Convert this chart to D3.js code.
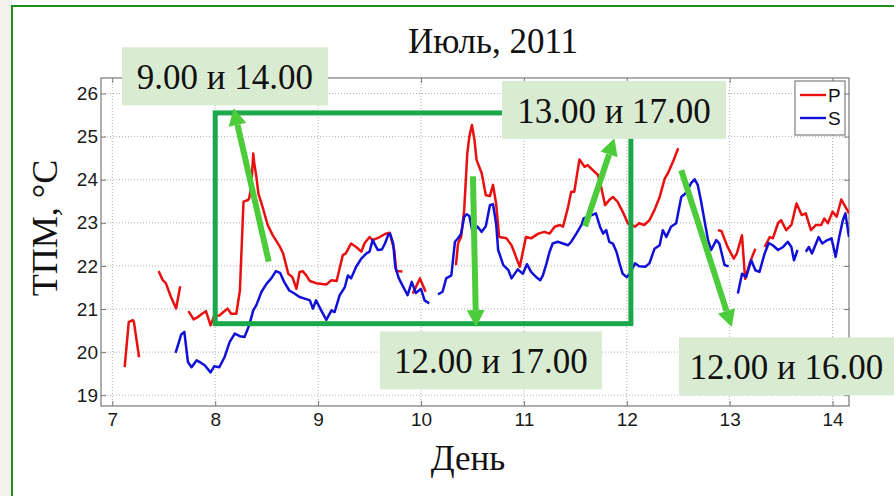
<!DOCTYPE html>
<html>
<head>
<meta charset="utf-8">
<script src="https://cdn.jsdelivr.net/npm/d3@7"></script>
<style>
  body { margin: 0; background: #fff; }
  svg { display: block; }
</style>
</head>
<body>
<div id="chart-area"></div>
<script>
// Temperature series, [day, °C]; null marks a gap in the record
const seriesP = [
  [7.12,19.65],[7.16,20.70],[7.20,20.74],[7.21,20.70],[7.26,19.88], null,
  [7.45,21.88],[7.49,21.67],[7.52,21.60],[7.57,21.28],[7.62,21.01],[7.66,21.53], null,
  [7.74,20.95],[7.79,20.76],[7.83,20.81],[7.865,20.88],[7.91,20.95],[7.955,20.62],[7.99,20.84],
  [8.04,20.85],[8.08,20.93],[8.12,21.01],[8.155,20.89],[8.205,20.89],[8.24,21.43],[8.275,23.49],
  [8.32,23.53],[8.33,23.57],[8.35,23.84],[8.37,24.61],[8.38,24.38],[8.40,24.07],[8.42,23.68],
  [8.46,23.37],[8.51,22.95],[8.56,22.71],[8.63,22.44],[8.66,22.29],[8.71,21.82],[8.75,21.74],
  [8.79,21.47],[8.82,21.86],[8.85,21.88],[8.885,21.78],[8.92,21.65],[8.98,21.60],[9.08,21.57],
  [9.13,21.67],[9.18,21.65],[9.24,22.25],[9.27,22.29],[9.32,22.52],[9.37,22.44],[9.42,22.33],
  [9.45,22.52],[9.50,22.67],[9.53,22.60],[9.60,22.67],[9.65,22.74],[9.695,22.77],[9.74,22.37],
  [9.76,21.88],[9.82,21.87], null,
  [9.92,21.36],[9.99,21.71],[10.045,21.40], null,
  [10.34,22.02],[10.36,22.52],[10.39,22.67],[10.42,23.30],[10.45,24.61],[10.47,25.00],[10.495,25.27],
  [10.52,24.92],[10.54,24.46],[10.59,24.15],[10.63,23.64],[10.67,23.62],[10.70,23.88],[10.73,23.45],
  [10.76,22.67],[10.83,22.64],[10.88,22.48],[10.96,21.98],[11.02,22.67],[11.07,22.64],[11.14,22.75],
  [11.20,22.79],[11.25,22.75],[11.30,22.91],[11.35,22.95],[11.38,22.91],[11.43,23.37],[11.46,23.72],
  [11.49,23.72],[11.54,24.47],[11.59,24.30],[11.62,24.34],[11.65,24.27],[11.72,24.11],[11.75,23.84],
  [11.79,23.41],[11.83,23.53],[11.865,23.60],[11.91,23.49],[11.96,23.26],[12.01,22.99],[12.08,22.91],
  [12.12,22.99],[12.17,22.95],[12.22,23.06],[12.27,23.30],[12.32,23.60],[12.37,24.03],[12.40,24.15],
  [12.45,24.42],[12.50,24.73], null,
  [12.885,22.83],[12.92,22.81],[12.98,22.44],[13.04,22.17],[13.07,22.29],[13.12,22.71],[13.15,21.70],
  [13.20,22.10],[13.25,22.40], null,
  [13.34,22.44],[13.39,22.67],[13.42,22.64],[13.47,22.99],[13.50,23.06],[13.55,22.83],[13.60,22.95],
  [13.65,23.45],[13.70,23.18],[13.74,23.22],[13.79,22.83],[13.84,22.95],[13.89,22.95],[13.92,23.10],
  [13.955,22.99],[14.00,23.26],[14.04,23.14],[14.085,23.54],[14.135,23.33],[14.16,23.22]
]

const seriesS = [
  [7.615,19.98],[7.67,20.41],[7.70,20.47],[7.735,19.77],[7.77,19.65],[7.82,19.81],[7.85,19.77],
  [7.90,19.69],[7.955,19.53],[7.99,19.67],[8.04,19.65],[8.09,19.88],[8.14,20.23],[8.19,20.43],
  [8.24,20.37],[8.285,20.35],[8.33,20.62],[8.37,20.97],[8.40,21.09],[8.45,21.40],[8.50,21.59],
  [8.545,21.71],[8.59,21.88],[8.63,21.84],[8.67,21.63],[8.72,21.43],[8.77,21.36],[8.82,21.28],
  [8.87,21.24],[8.92,21.20],[8.95,21.01],[8.98,21.20],[9.03,20.97],[9.08,20.75],[9.13,20.97],
  [9.16,20.93],[9.21,21.32],[9.26,21.51],[9.29,21.78],[9.32,21.71],[9.37,21.98],[9.42,22.17],
  [9.47,22.29],[9.50,22.33],[9.53,22.60],[9.58,22.37],[9.62,22.38],[9.65,22.52],[9.68,22.71],
  [9.70,22.75],[9.73,22.52],[9.75,21.98],[9.785,21.71],[9.82,21.55],[9.87,21.32],[9.91,21.63],
  [9.95,21.37],[10.00,21.47],[10.035,21.20],[10.08,21.13], null,
  [10.165,21.34],[10.21,21.40],[10.245,21.71],[10.295,21.78],[10.33,22.56],[10.36,22.64],[10.39,22.75],
  [10.42,23.14],[10.445,23.20],[10.47,23.16],[10.50,22.79],[10.55,22.91],[10.59,22.79],[10.63,22.92],
  [10.67,23.41],[10.70,23.43],[10.73,22.99],[10.75,22.37],[10.80,22.02],[10.85,21.90],[10.88,21.71],
  [10.94,21.92],[10.99,21.82],[11.03,22.04],[11.07,21.86],[11.12,21.74],[11.16,21.67],[11.185,21.78],
  [11.22,22.06],[11.25,22.33],[11.28,22.52],[11.33,22.56],[11.38,22.52],[11.43,22.48],[11.46,22.56],
  [11.51,22.75],[11.56,22.95],[11.58,23.10],[11.62,23.14],[11.66,23.18],[11.70,23.22],[11.74,22.91],
  [11.77,22.75],[11.80,22.83],[11.83,22.56],[11.865,22.52],[11.90,22.33],[11.93,22.06],[11.96,21.82],
  [12.00,21.74],[12.03,21.82],[12.08,22.06],[12.12,21.99],[12.18,21.98],[12.22,22.06],[12.27,22.40],
  [12.32,22.48],[12.35,22.83],[12.385,22.67],[12.43,22.91],[12.48,22.99],[12.505,23.30],[12.53,23.60],
  [12.57,23.68],[12.60,23.80],[12.625,23.92],[12.66,24.01],[12.69,23.88],[12.72,23.53],[12.755,23.06],
  [12.79,22.60],[12.82,22.37],[12.87,22.60],[12.90,22.52],[12.95,22.02],[12.99,21.99], null,
  [13.08,21.36],[13.12,21.82],[13.16,21.74],[13.21,22.13],[13.25,21.90],[13.29,21.86],[13.34,22.29],
  [13.38,22.53],[13.42,22.48],[13.47,22.37],[13.52,22.44],[13.565,22.56],[13.60,22.44],[13.625,22.13],
  [13.66,22.37], null,
  [13.74,22.33],[13.77,22.44],[13.80,22.29],[13.865,22.67],[13.90,22.52],[13.95,22.60],[13.99,22.64],
  [14.03,22.21],[14.065,22.67],[14.10,23.06],[14.125,23.22],[14.16,22.67]
]

const xTicks = [7, 8, 9, 10, 11, 12, 13, 14]
const yTicks = [19, 20, 21, 22, 23, 24, 25, 26]
const legendNames = ['P', 'S']
const seriesColors = ['#e81010', '#1010d8']

// Slide annotations (boxes + arrows), in day / °C
const highlight = { x0: 8, x1: 12.04, y0: 20.66, y1: 25.55 }
const arrows = [
  { from: [8.52, 22.10], to: [8.18, 25.66] },
  { from: [10.505, 24.08], to: [10.535, 20.58] },
  { from: [11.595, 22.92], to: [11.88, 24.96] },
  { from: [12.53, 24.22], to: [13.02, 20.58] }
]
const notes = [
  { text: '9.00 и 14.00', x: 8.095, y: 26.40, w: 206 },
  { text: '13.00 и 17.00', x: 11.876, y: 25.62, w: 224 },
  { text: '12.00 и 17.00', x: 10.68, y: 19.81, w: 222 },
  { text: '12.00 и 16.00', x: 13.552, y: 19.67, w: 215 }
]

const W = 894, H = 496
const PLOT = { LEFT: 101, RIGHT: 849, TOP: 78, BOTTOM: 406 }

const svg = d3.select('#chart-area').append('svg')
  .attr('width', W)
  .attr('height', H)

// slide background and frame
svg.append('rect').attr('width', W).attr('height', H).attr('fill', '#ffffff')
svg.append('rect').attr('width', 12).attr('height', H).attr('fill', '#f2f1ec')
svg.append('line').attr('x1', 12).attr('x2', 12).attr('y1', 5).attr('y2', H)
  .attr('stroke', '#1f8c1f').attr('stroke-width', 2)
svg.append('line').attr('x1', 11).attr('x2', W).attr('y1', 6).attr('y2', 6)
  .attr('stroke', '#1f8c1f').attr('stroke-width', 2)

// Scales
const x = d3.scaleLinear()
  .domain([6.89, 14.16])
  .range([PLOT.LEFT, PLOT.RIGHT])
const y = d3.scaleLinear()
  .domain([18.75, 26.36])
  .range([PLOT.BOTTOM, PLOT.TOP])

const g = svg.append('g')

// Grid
const grid = g.append('g')
  .attr('stroke', '#b0b0b0')
  .attr('stroke-width', 1)
  .attr('stroke-dasharray', '1,2')
grid.selectAll('.gx').data(xTicks).enter().append('line')
  .attr('x1', d => x(d)).attr('x2', d => x(d))
  .attr('y1', PLOT.TOP).attr('y2', PLOT.BOTTOM)
grid.selectAll('.gy').data(yTicks).enter().append('line')
  .attr('x1', PLOT.LEFT).attr('x2', PLOT.RIGHT)
  .attr('y1', d => y(d)).attr('y2', d => y(d))

// Axes, MATLAB style: ticks inside on all four sides
const tickFont = '"Liberation Sans", Arial, sans-serif'
const xAxisCall = d3.axisBottom(x).tickValues(xTicks).tickSizeInner(-5).tickSizeOuter(0).tickPadding(7)
const yAxisCall = d3.axisLeft(y).tickValues(yTicks).tickSizeInner(-5).tickSizeOuter(0).tickPadding(3)

g.append('g')
  .attr('transform', `translate(0, ${PLOT.BOTTOM})`)
  .call(xAxisCall)
g.append('g')
  .attr('transform', `translate(${PLOT.LEFT}, 0)`)
  .call(yAxisCall)
g.append('g')
  .attr('transform', `translate(0, ${PLOT.TOP})`)
  .call(d3.axisTop(x).tickValues(xTicks).tickSizeInner(-5).tickSizeOuter(0).tickFormat(''))
g.append('g')
  .attr('transform', `translate(${PLOT.RIGHT}, 0)`)
  .call(d3.axisRight(y).tickValues(yTicks).tickSizeInner(-5).tickSizeOuter(0).tickFormat(''))

g.selectAll('.domain').remove()
g.selectAll('.tick line').attr('stroke', '#777')
g.selectAll('.tick text')
  .attr('font-family', tickFont)
  .attr('font-size', '19px')
  .attr('fill', '#1a1a1a')

g.append('rect')
  .attr('x', PLOT.LEFT).attr('y', PLOT.TOP)
  .attr('width', PLOT.RIGHT - PLOT.LEFT).attr('height', PLOT.BOTTOM - PLOT.TOP)
  .attr('fill', 'none')
  .attr('stroke', '#7a7a7a')
  .attr('stroke-width', 1.2)

// Lines
svg.append('clipPath').attr('id', 'plot-clip')
  .append('rect')
  .attr('x', PLOT.LEFT).attr('y', PLOT.TOP)
  .attr('width', PLOT.RIGHT - PLOT.LEFT).attr('height', PLOT.BOTTOM - PLOT.TOP)

const line = d3.line()
  .defined(d => d !== null)
  .x(d => x(d[0]))
  .y(d => y(d[1]))

const lines = g.append('g').attr('clip-path', 'url(#plot-clip)')
;[seriesP, seriesS].forEach((series, i) => {
  lines.append('path')
    .datum(series)
    .attr('fill', 'none')
    .attr('stroke', seriesColors[i])
    .attr('stroke-width', 2.5)
    .attr('stroke-linejoin', 'round')
    .attr('d', line)
})

// Legend
const legend = g.append('g')
  .attr('transform', `translate(${PLOT.RIGHT - 54}, ${PLOT.TOP + 3})`)
legend.append('rect')
  .attr('width', 50).attr('height', 54)
  .attr('fill', '#fff')
  .attr('stroke', '#666')
legendNames.forEach((name, i) => {
  const row = legend.append('g').attr('transform', `translate(0, ${14 + i * 23})`)
  row.append('line')
    .attr('x1', 5).attr('x2', 31)
    .attr('stroke', seriesColors[i])
    .attr('stroke-width', 2.4)
  row.append('text')
    .attr('x', 33).attr('y', 7)
    .attr('font-family', tickFont)
    .attr('font-size', '19px')
    .attr('fill', '#111')
    .text(name)
})

// Titles
const serif = '"Liberation Serif", "Times New Roman", serif'
svg.append('text')
  .attr('x', 493).attr('y', 53)
  .attr('text-anchor', 'middle')
  .attr('font-family', serif)
  .attr('font-size', '35px')
  .attr('fill', '#111')
  .text('Июль, 2011')
svg.append('text')
  .attr('x', 468).attr('y', 470)
  .attr('text-anchor', 'middle')
  .attr('font-family', serif)
  .attr('font-size', '35px')
  .attr('fill', '#111')
  .text('День')
svg.append('text')
  .attr('transform', 'translate(57, 228) rotate(-90)')
  .attr('text-anchor', 'middle')
  .attr('font-family', serif)
  .attr('font-size', '36px')
  .attr('fill', '#111')
  .text('ТПМ, °C')

// Annotations
const ann = svg.append('g')
ann.append('rect')
  .attr('x', x(highlight.x0)).attr('y', y(highlight.y1))
  .attr('width', x(highlight.x1) - x(highlight.x0))
  .attr('height', y(highlight.y0) - y(highlight.y1))
  .attr('fill', 'none')
  .attr('stroke', '#1aa84a')
  .attr('stroke-width', 5)

const arrowColor = '#4ccc3a'
arrows.forEach(a => {
  const x1 = x(a.from[0]), y1 = y(a.from[1])
  const x2 = x(a.to[0]), y2 = y(a.to[1])
  const ang = Math.atan2(y2 - y1, x2 - x1)
  const headLen = 17, headW = 9
  const bx = x2 - headLen * Math.cos(ang), by = y2 - headLen * Math.sin(ang)
  ann.append('line')
    .attr('x1', x1).attr('y1', y1).attr('x2', bx).attr('y2', by)
    .attr('stroke', arrowColor)
    .attr('stroke-width', 6)
  const px = -Math.sin(ang) * headW, py = Math.cos(ang) * headW
  ann.append('path')
    .attr('d', `M${x2},${y2}L${bx + px},${by + py}L${bx - px},${by - py}Z`)
    .attr('fill', arrowColor)
})

notes.forEach(n => {
  const cx = x(n.x), cy = y(n.y)
  ann.append('rect')
    .attr('x', cx - n.w / 2).attr('y', cy - 29)
    .attr('width', n.w).attr('height', 58)
    .attr('fill', '#d9ecd2')
  ann.append('text')
    .attr('x', cx).attr('y', cy + 13)
    .attr('text-anchor', 'middle')
    .attr('font-family', serif)
    .attr('font-size', '35px')
    .attr('fill', '#111')
    .text(n.text)
})
</script>
</body>
</html>
